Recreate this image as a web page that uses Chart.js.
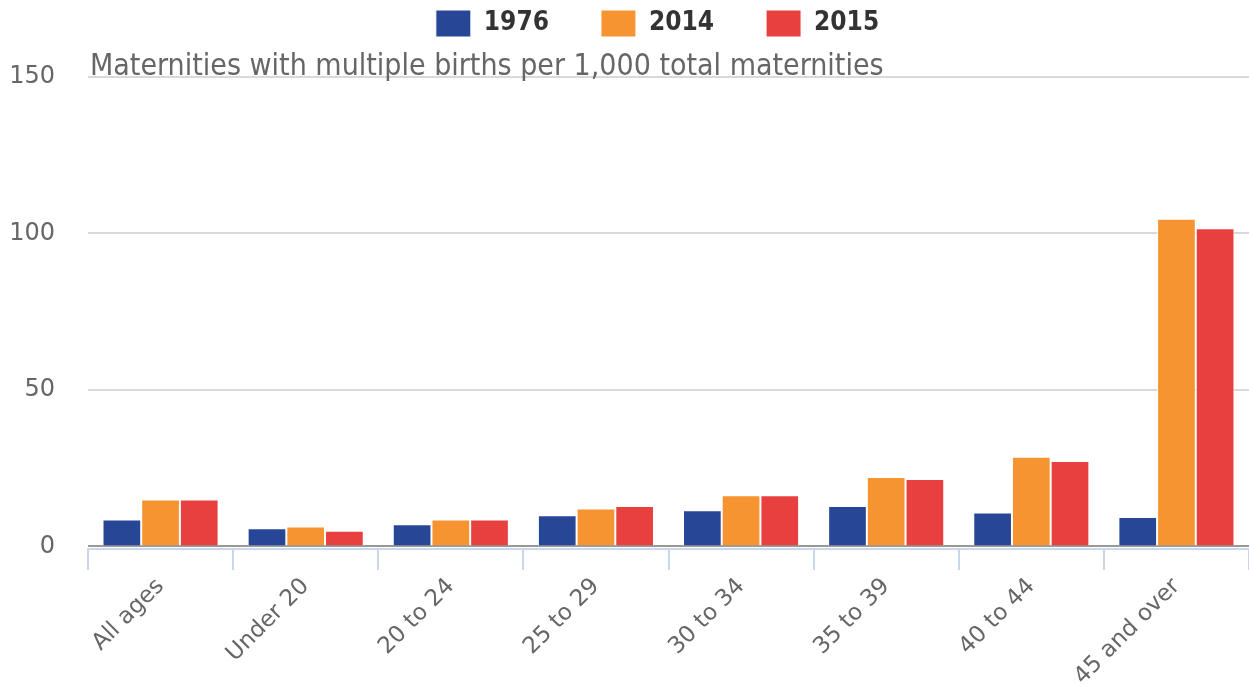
<!DOCTYPE html>
<html>
<head>
<meta charset="utf-8">
<script src="https://cdn.jsdelivr.net/npm/chart.js@4.4.0/dist/chart.umd.min.js"></script>
<style>
	html, body { margin: 0; padding: 0; background: #fff; }
	#wrap { width: 1249px; height: 686px; }
</style>
</head>
<body>
<div id="wrap"><canvas id="chart-bars"></canvas></div>
<script>
// Datos del grafico
const labels_age = ["All ages", "Under 20", "20 to 24", "25 to 29", "30 to 34", "35 to 39", "40 to 44", "45 and over"];
const data_1976 = [8.6, 5.8, 7.1, 10.0, 11.6, 12.9, 10.9, 9.4];
const data_2014 = [15.0, 6.4, 8.6, 12.1, 16.4, 22.2, 28.7, 104.7];
const data_2015 = [15.0, 5.0, 8.6, 12.9, 16.4, 21.6, 27.3, 101.7];
const y_ticks = [0, 50, 100, 150];
const y_title = "Maternities with multiple births per 1,000 total maternities";

const FONT = "'DejaVu Sans', sans-serif";
const FONT_COND = "'DejaVu Sans Condensed', 'DejaVu Sans', sans-serif";

// titulo del eje y, arriba a la izquierda del area
const yTitlePlugin = {
	id: "yTitle",
	afterDraw(chart) {
		const c = chart.ctx;
		c.save();
		c.font = "30px " + FONT_COND;
		c.fillStyle = "#666666";
		c.textBaseline = "alphabetic";
		c.textAlign = "left";
		c.fillText(y_title, chart.chartArea.left + 2, 75);
		c.restore();
	}
};

// la leyenda ocupa el espacio hasta la linea de 150 y se centra sobre el area
const legendSpace = {
	id: "legendSpace",
	beforeLayout(chart) {
		const lg = chart.legend;
		if (lg && !lg._patched) {
			const origFit = lg.fit.bind(lg);
			lg.fit = function () {
				origFit();
				this.height = 119;
			};
			const origDraw = lg.draw.bind(lg);
			lg.draw = function () {
				const c = this.ctx;
				c.save();
				c.translate(33, 0);
				origDraw();
				c.restore();
			};
			lg._patched = true;
		}
	}
};

const ctx = document.getElementById("chart-bars").getContext("2d");
let myChart = new Chart(ctx, {
	type: "bar",
	data: {
		labels: labels_age,
		datasets: [
			{
				label: "1976",
				data: data_1976,
				backgroundColor: "#274796",
				borderColor: "#ffffff",
				borderWidth: 1,
			},
			{
				label: "2014",
				data: data_2014,
				backgroundColor: "#f59431",
				borderColor: "#ffffff",
				borderWidth: 1,
			},
			{
				label: "2015",
				data: data_2015,
				backgroundColor: "#e83f3f",
				borderColor: "#ffffff",
				borderWidth: 1,
			}
		],
	},
	plugins: [yTitlePlugin, legendSpace],
	options: {
		responsive: true,
		maintainAspectRatio: false,
		animation: false,
		layout: {
			padding: { top: -42, left: 0, right: 0, bottom: 0 },
		},
		datasets: {
			bar: {
				categoryPercentage: 0.8,
				barPercentage: 1.0,
			},
		},
		plugins: {
			tooltip: { enabled: false },
			legend: {
				position: "top",
				labels: {
					boxWidth: 35,
					boxHeight: 27,
					padding: 52,
					color: "#333333",
					font: { family: FONT_COND, size: 26, weight: "bold" },
				},
			},
		},
		scales: {
			x: {
				afterFit(scale) { scale.height = 137; },
				grid: {
					drawOnChartArea: false,
					drawTicks: true,
					tickLength: 21,
					color: "#ccd6eb",
					lineWidth: 2,
				},
				border: { color: "#ccd6eb", width: 2 },
				ticks: {
					minRotation: 45,
					maxRotation: 45,
					padding: 3,
					color: "#666666",
					font: { family: FONT, size: 23 },
				},
			},
			y: {
				min: -0.8,
				max: 150,
				afterFit(scale) { scale.width = 88; },
				afterBuildTicks(scale) {
					scale.ticks = y_ticks.map(v => ({ value: v }));
				},
				grid: {
					drawTicks: false,
					lineWidth: 2,
					color: (c) => (c.tick && c.tick.value === 0 ? "#999999" : "#d9d9d9"),
				},
				border: { display: false },
				ticks: {
					padding: 33,
					color: "#666666",
					font: { family: FONT, size: 24 },
				},
			},
		},
	},
});
</script>
</body>
</html>
